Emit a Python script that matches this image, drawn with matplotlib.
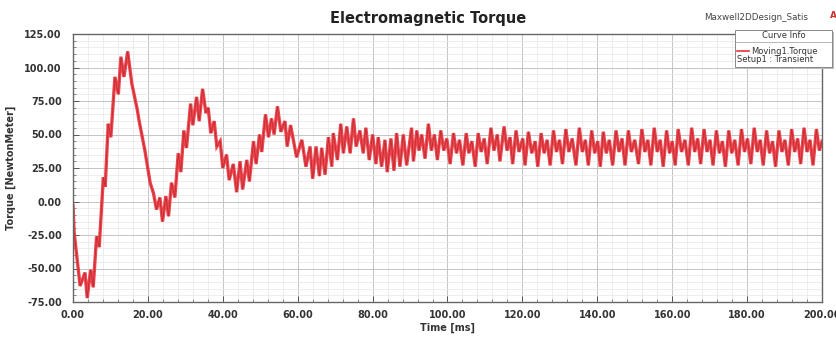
import numpy as np
import matplotlib
matplotlib.use("Agg")
import matplotlib.pyplot as plt
from matplotlib.ticker import MultipleLocator, FormatStrFormatter
from matplotlib.lines import Line2D
from matplotlib.patches import Rectangle

plt.rcParams['font.family'] = ['DejaVu Sans']

# start-up transient (time in ms, torque in N.m)
t_transient = [0.0, 0.3, 1.9, 3.2, 3.8, 4.7, 5.4, 6.3, 7.0, 8.1, 8.6, 9.4, 10.1,
               11.2, 12.1, 12.8, 13.6, 14.6, 15.7, 17.2, 17.6, 19.2, 20.6, 21.5,
               22.3, 23.2, 23.9, 24.8, 25.5, 26.3, 27.2, 28.1, 28.8, 29.6, 30.3,
               31.4, 32.0, 33.0, 33.7, 34.6, 35.5, 36.1, 36.8, 37.7, 38.4, 39.3,
               40.0, 41.0, 41.7, 42.8, 43.7, 44.6, 45.3, 46.4, 47.1, 48.2, 48.9,
               49.8, 50.4, 51.4, 52.2, 53.0, 53.7, 54.6, 55.5, 56.6, 57.2, 58.1,
               59.7, 61.1, 62.2, 63.3, 64.0, 64.9, 65.8, 66.4, 67.3, 68.2, 69.1,
               69.5, 70.6, 71.5, 72.2, 73.1, 74.0, 74.9, 75.6, 76.6, 77.5, 78.2,
               79.1, 80.0, 80.9, 81.5, 82.4, 83.3, 83.9, 84.9, 85.7, 86.4, 87.3,
               88.2, 89.1, 90.4, 90.9, 91.8, 92.4, 93.1]
tq_transient = [-3, -23, -63, -53, -72, -51, -64, -26, -34, 18, 11, 58, 48,
                93, 80, 108, 93, 112, 88, 68, 61, 38, 14, 6,
                -6, 3, -15, 4, -11, 14, 3, 36, 22, 53, 40,
                73, 57, 78, 60, 84, 66, 70, 51, 60, 41, 45,
                25, 35, 16, 28, 7, 30, 9, 31, 15, 45, 28,
                50, 37, 65, 48, 62, 50, 71, 52, 60, 41, 57,
                33, 46, 26, 41, 17, 41, 19, 40, 20, 48, 26,
                51, 31, 58, 36, 56, 36, 62, 41, 53, 36, 55,
                31, 50, 28, 48, 26, 46, 22, 47, 23, 51, 26,
                50, 27, 55, 30, 53, 38, 50]

# steady ripple: trough, main peak, dip, small peak per slot cycle
t_steady = [94.0, 94.9, 95.7, 96.5, 97.3, 98.2, 99.0, 99.8,
            100.7, 101.6, 102.4, 103.2, 104.1, 105.0, 105.7, 106.5,
            107.4, 108.2, 109.0, 109.8, 110.6, 111.6, 112.4, 113.3,
            114.0, 115.1, 115.9, 116.7, 117.4, 118.3, 119.1, 120.1,
            120.7, 121.6, 122.5, 123.4, 124.1, 125.0, 125.8, 126.6,
            127.4, 128.3, 129.1, 129.9, 130.7, 131.6, 132.4, 133.3,
            134.3, 135.2, 136.0, 136.8, 137.6, 138.5, 139.3, 140.1,
            140.8, 141.6, 142.4, 143.2, 144.1, 145.0, 145.8, 146.6,
            147.4, 148.3, 149.1, 150.0, 151.0, 151.9, 152.7, 153.5,
            154.3, 155.2, 156.0, 156.8, 157.6, 158.5, 159.3, 160.0,
            160.8, 161.6, 162.5, 163.4, 164.3, 165.2, 166.0, 166.8,
            167.6, 168.5, 169.3, 170.1, 170.9, 171.8, 172.6, 173.4,
            174.2, 175.1, 175.9, 176.7, 177.6, 178.5, 179.3, 180.1,
            181.0, 181.9, 182.7, 183.5, 184.3, 185.2, 186.0, 186.8,
            187.6, 188.5, 189.3, 190.1, 191.0, 191.9, 192.7, 193.5,
            194.3, 195.2, 196.0, 196.8, 197.6, 198.5, 199.3, 200.0]
tq_steady = [32, 58, 38, 50, 31, 53, 38, 47,
             28, 51, 36, 46, 27, 51, 36, 45,
             26, 51, 37, 47, 28, 55, 38, 50,
             30, 56, 38, 48, 28, 53, 37, 47,
             27, 52, 36, 45, 26, 51, 36, 46,
             27, 53, 37, 46, 28, 54, 37, 47,
             27, 55, 37, 46, 27, 53, 36, 45,
             26, 52, 36, 46, 27, 53, 37, 47,
             27, 53, 37, 46, 28, 54, 37, 46,
             27, 55, 37, 46, 26, 53, 36, 45,
             27, 54, 37, 46, 27, 55, 37, 47,
             28, 54, 37, 46, 27, 53, 36, 45,
             26, 53, 36, 46, 27, 54, 37, 47,
             28, 55, 37, 46, 27, 53, 36, 45,
             26, 53, 37, 46, 27, 54, 37, 47,
             28, 55, 37, 46, 27, 54, 38, 45]

time_ms = np.array(t_transient + t_steady)
torque = np.array(tq_transient + tq_steady)

fig = plt.figure(figsize=(8.37, 3.38), dpi=100)
ax = fig.add_axes([73/837, 36/338, (822-73)/837, (302-34)/338])

# thick light red band with a thin darker core, like the blurred Maxwell trace
ax.plot(time_ms, torque, color='#f0464e', linewidth=2.4, solid_joinstyle='miter')
ax.plot(time_ms, torque, color='#b3262c', linewidth=0.6, alpha=0.8)

ax.set_xlim(0, 200)
ax.set_ylim(-75, 125)
ax.xaxis.set_major_locator(MultipleLocator(20))
ax.xaxis.set_minor_locator(MultipleLocator(4))
ax.yaxis.set_major_locator(MultipleLocator(25))
ax.yaxis.set_minor_locator(MultipleLocator(5))
ax.xaxis.set_major_formatter(FormatStrFormatter('%.2f'))
ax.yaxis.set_major_formatter(FormatStrFormatter('%.2f'))

ax.grid(which='major', color='#c4c4c4', linewidth=0.7)
ax.grid(which='minor', color='#e6e6e6', linewidth=0.5)
ax.set_axisbelow(True)

ax.tick_params(which='major', direction='in', length=4, width=0.7, color='#555555',
               labelsize=7)
ax.tick_params(axis='y', which='major', pad=8)
ax.tick_params(axis='x', which='major', pad=6)
ax.tick_params(which='minor', direction='in', length=2, width=0.6, color='#777777')
for lab in ax.get_xticklabels() + ax.get_yticklabels():
    lab.set_fontweight('bold')
    lab.set_color('#333333')
for sp in ax.spines.values():
    sp.set_color('#666666')
    sp.set_linewidth(1.0)

ax.set_xlabel('Time [ms]', fontsize=7, fontweight='bold', color='#333333', labelpad=2)
ax.set_ylabel('Torque [NewtonMeter]', fontsize=7, fontweight='bold', color='#333333',
              labelpad=6)

fig.text(428/837, 1 - 18/338, 'Electromagnetic Torque', ha='center', va='center',
         fontsize=10.5, fontweight='bold', color='#222222')
fig.text(756/837, 1 - 17/338, 'Maxwell2DDesign_Satis', ha='center', va='center',
         fontsize=6.3, color='#444444')
fig.text(830/837, 1 - 16/338, 'A', ha='left', va='center', fontsize=6.5,
         color='#d03030', fontweight='bold')

# curve info box
bx0, by0, bw, bh = 735/837, 1 - 67/338, 97/837, 37/338
fig.patches.append(Rectangle((bx0 + 2/837, by0 - 2/338), bw, bh, transform=fig.transFigure,
                             facecolor='#bbbbbb', edgecolor='none', zorder=5))
fig.patches.append(Rectangle((bx0, by0), bw, bh, transform=fig.transFigure,
                             facecolor='white', edgecolor='#888888', linewidth=0.7, zorder=6))
fig.lines.append(Line2D([bx0, bx0 + bw], [1 - 42/338, 1 - 42/338], transform=fig.transFigure,
                        color='#999999', linewidth=0.5, zorder=7))
fig.text(bx0 + bw / 2, 1 - 35.5/338, 'Curve Info', ha='center', va='center', fontsize=6,
         color='#333333', zorder=7)
fig.lines.append(Line2D([737/837, 749/837], [1 - 51/338, 1 - 51/338], transform=fig.transFigure,
                        color='#e8343c', linewidth=1.2, zorder=7))
fig.text(751/837, 1 - 51/338, 'Moving1.Torque', ha='left', va='center', fontsize=6,
         color='#333333', zorder=7)
fig.text(737/837, 1 - 60/338, 'Setup1 : Transient', ha='left', va='center', fontsize=6,
         color='#333333', zorder=7)

fig.savefig('out.png', dpi=100)
